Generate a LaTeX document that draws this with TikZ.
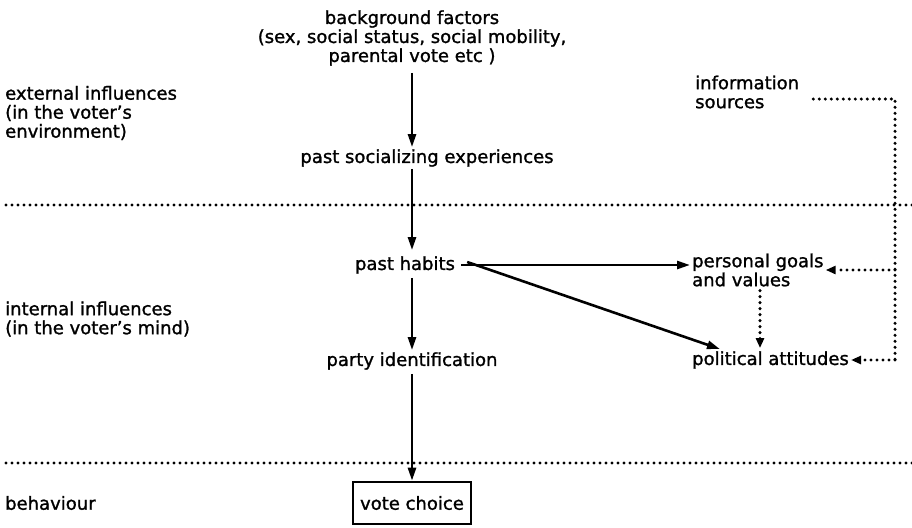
\documentclass[tikz,border=0pt]{standalone}
\usepackage{fontspec}
\setmainfont{DejaVu Sans}[BoldFont = {DejaVu Sans}, BoldFeatures = {FakeBold = 1.3}]
\usepackage{tikz}
\usetikzlibrary{arrows.meta}

\begin{document}
\begin{tikzpicture}[x=1pt, y=-1pt, font=\fontsize{18}{19}\selectfont\bfseries]
			\tikzset{label/.style={inner sep = 2pt, align = left, anchor = west}}
			\tikzset{factor/.style={inner sep = 2pt, align = center}}
			\tikzset{choicebox/.style={draw, line width = 2.6pt, inner sep = 7pt, minimum height = 42pt}}
			\tikzset{arr/.style={-{Triangle[length = 13pt, width = 8pt]}, line width = 2.6pt}}
			\tikzset{dotline/.style={line width = 3.4pt, line cap = round, dash pattern = on 0pt off 6pt}}
			\tikzset{dotarr/.style={dotline, -{Triangle[length = 10pt, width = 8pt]}}}
			\useasboundingbox (0, 0) rectangle (912, 527);
			%rows
			\node[label] (ext) at (3, 113) {external influences\\(in the voter's\\environment)};
			\node[label] (intl) at (3, 319) {internal influences\\(in the voter's mind)};
			\node[label] (beh) at (3, 503) {behaviour};
			\draw[dotline] (6, 205) -- (912, 205);
			\draw[dotline] (6, 463) -- (912, 463);
			%factors
			\node[factor] (bg) at (412, 38) {background factors\\(sex, social status, social mobility,\\parental vote etc )};
			\node[factor] (soc) at (427, 158) {past socializing experiences};
			\node[factor] (hab) at (405, 265) {past habits};
			\node[factor] (party) at (412, 361) {party identification};
			\node[choicebox] (vote) at (412, 503) {vote choice};
			\node[label] (goals) at (690, 270) {personal goals\\and values};
			\node[label] (att) at (690, 360) {political attitudes};
			\node[label] (info) at (693, 92) {information\\sources};
			\coordinate (ne) at (895, 99);
			\coordinate (se) at (895, 360);
			%arrows
			\draw[arr] ([yshift = -5pt]bg.south) -- (bg.south |- soc.north);
			\draw[arr] (soc.south -| bg.south) -- ([yshift = 4pt]bg.south |- hab.north);
			\draw[arr] ([yshift = -2pt]bg.south |- hab.south) -- (bg.south |- party.north);
			\draw[arr] ([yshift = -2pt]bg.south |- party.south) -- (vote.north);
			\draw[arr] ([xshift = 4pt]hab.east) -- (hab.east -| goals.west);
			\draw[arr] ([xshift = 10pt, yshift = 3pt]hab.east) -- ([xshift = 30pt]att.north west);
			\draw[dotarr] ([xshift = 70pt, yshift = -2pt]goals.south west) -- ([xshift = 70pt, yshift = 1pt]goals.south west |- att.north);
			\draw[dotline] ([xshift = 12pt]info.east |- ne) -- (ne) -- (se);
			\draw[dotarr] (se) -- (att.east);
			\draw[dotarr] (ne |- goals.east) -- (goals.east);
\end{tikzpicture}
\end{document}
